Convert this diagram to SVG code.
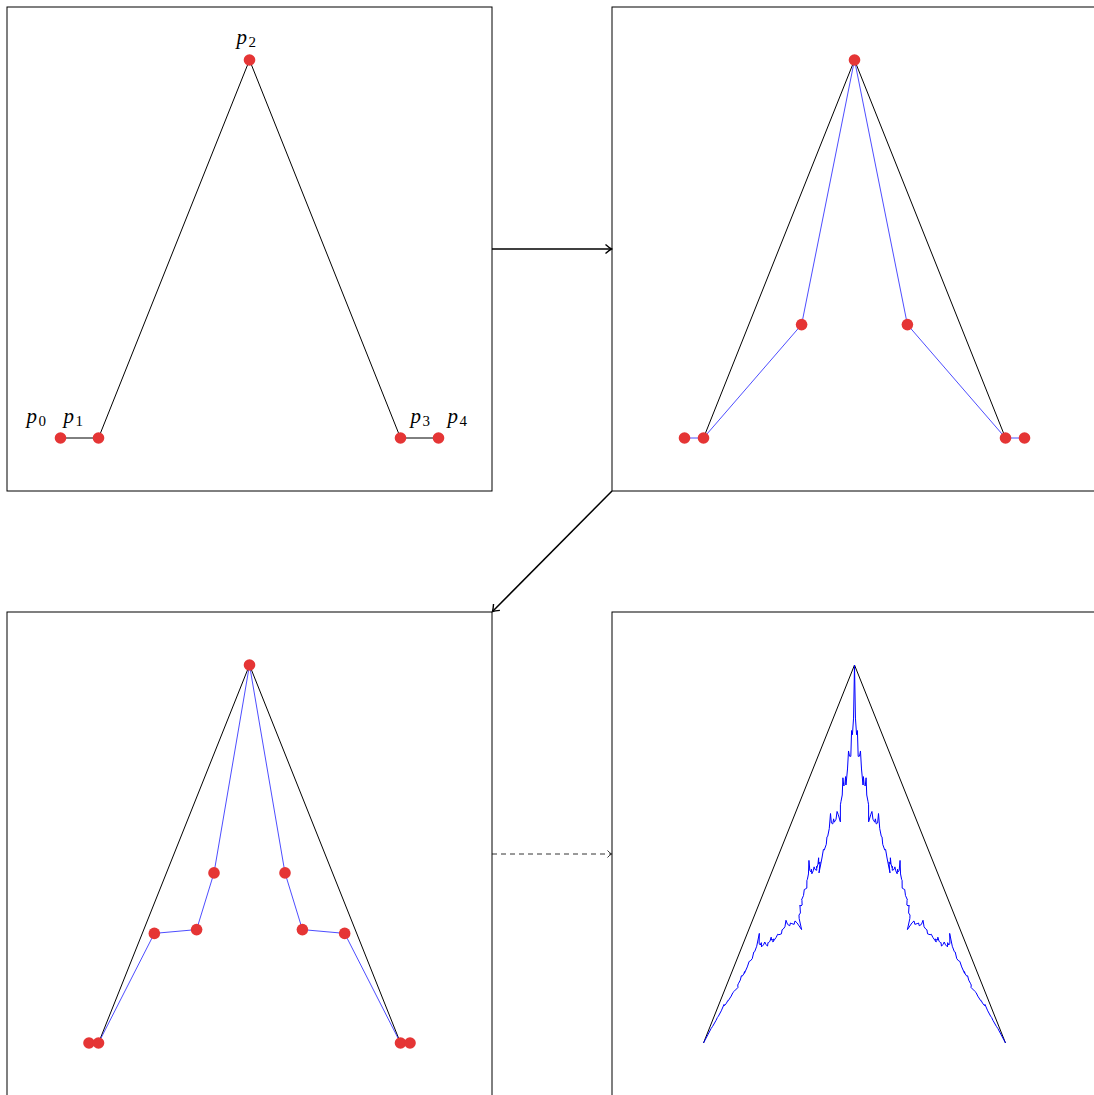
<svg xmlns="http://www.w3.org/2000/svg" xmlns:xlink="http://www.w3.org/1999/xlink" width="1094" height="1095" viewBox="0 0 1094 1095">
<style>
.box{fill:none;stroke:#000;stroke-width:1}
.blk{fill:none;stroke:#000;stroke-width:1;stroke-linejoin:round}
.blu{fill:none;stroke:#2020ff;stroke-width:0.8;stroke-linejoin:round}
.frac{fill:none;stroke:#0000ff;stroke-width:1;stroke-linejoin:round}
.dot{fill:#e53535}
.lbl{font-family:"Liberation Serif","Times New Roman",serif;font-size:21px;fill:#000}
.lbl .i{font-style:italic}
.lbl .s{font-size:15px}
.arr{fill:none;stroke:#000;stroke-width:1.5}
.dash{fill:none;stroke:#000;stroke-width:0.8;stroke-dasharray:5 4}
</style>
<defs>
<marker id="tip" markerWidth="10" markerHeight="12" viewBox="-8 -6 10 12" refX="0" refY="0" orient="auto" markerUnits="userSpaceOnUse">
<path d="M-6,-4.5 Q-2,-1 0,0 Q-2,1 -6,4.5" fill="none" stroke="#000" stroke-width="1.4"/>
</marker>
<marker id="tipS" markerWidth="10" markerHeight="12" viewBox="-8 -6 10 12" refX="0" refY="0" orient="auto" markerUnits="userSpaceOnUse">
<path d="M-4,-3.5 Q-1.5,-0.8 0,0 Q-1.5,0.8 -4,3.5" fill="none" stroke="#000" stroke-width="0.8"/>
</marker>
<path id="halfL" d="M-151,378 L-146.31,369.10 -143.35,363.47 -141.95,361.47 -138.41,355.31 -137.12,352.52 -136.12,351.18 -133.25,345.86 -130.44,339.41 -130.02,340.65 -128.01,338.11 -126.69,335.56 -126.30,335.80 -123.27,331.10 -121.56,327.51 -119.92,325.90 -116.53,322.43 -116.74,320.02 -116.16,318.77 -114.22,315.13 -113.10,310.77 -112.38,311.32 -110.70,308.93 -109.92,306.59 -110.05,308.26 -107.21,301.93 -105.35,296.41 -104.26,296.01 -102.26,293.69 -100.73,287.06 -99.84,286.65 -97.81,281.25 -95.17,268.38 -95.40,278.23 -94.29,280.03 -93.16,277.65 -92.99,281.89 -91.05,279.88 -89.69,276.99 -88.80,279.34 -86.95,281.04 -86.50,277.47 -86.03,277.76 -84.51,276.13 -83.34,272.16 -83.01,275.04 -81.52,274.75 -81.00,273.83 -81.72,277.07 -78.47,272.62 -76.80,269.26 -75.60,269.71 -73.05,268.83 -72.43,264.85 -71.49,264.32 -69.57,261.80 -68.53,255.26 -66.96,259.35 -64.76,260.78 -64.05,257.99 -63.37,258.37 -60.39,259.37 -59.50,255.95 -57.50,257.85 -52.90,264.60 -55.34,253.59 -55.51,250.06 -54.08,247.95 -54.58,240.02 -53.79,241.03 -52.38,240.05 -52.57,235.42 -52.98,235.00 -50.97,230.49 -50.22,224.52 -49.39,224.15 -47.68,223.11 -47.59,215.22 -47.10,214.32 -46.04,208.94 -45.55,195.43 -44.68,205.34 -43.55,206.95 -43.06,204.18 -42.67,208.80 -41.18,205.65 -40.40,201.86 -39.51,204.46 -37.72,205.29 -37.88,201.33 -37.71,202.75 -36.54,199.13 -35.87,192.75 -35.78,199.09 -34.60,197.12 -34.42,196.94 -35.49,207.90 -32.54,193.00 -31.09,184.43 -30.25,184.99 -28.22,179.36 -27.53,171.81 -26.81,171.38 -25.24,163.63 -24.00,148.52 -23.13,157.96 -21.74,158.96 -20.88,153.85 -20.24,157.20 -18.48,154.27 -17.43,146.48 -16.21,149.71 -14.13,156.87 -14.08,139.81 -13.47,136.33 -12.26,130.00 -11.59,112.77 -10.75,120.95 -9.59,119.49 -8.94,111.60 -8.51,120.02 -7.00,103.97 -5.97,85.97 -5.01,91.15 -3.68,91.38 -2.92,65.52 -2.07,69.69 -0.94,53.12 0,0"/>
</defs>
<rect width="1094" height="1095" fill="#fff"/>

<g id="panel1">
<rect class="box" x="7" y="7" width="485" height="484"/>
<polyline class="blk" points="60.5,438 98.5,438 249.5,60 400.5,438 438.5,438"/>
<circle class="dot" cx="60.5" cy="438" r="5.8"/>
<circle class="dot" cx="98.5" cy="438" r="5.8"/>
<circle class="dot" cx="249.5" cy="60" r="5.8"/>
<circle class="dot" cx="400.5" cy="438" r="5.8"/>
<circle class="dot" cx="438.5" cy="438" r="5.8"/>
<text class="lbl" x="26.5" y="423"><tspan class="i">p</tspan><tspan class="s" dx="1.5" dy="3">0</tspan></text>
<text class="lbl" x="63.5" y="423"><tspan class="i">p</tspan><tspan class="s" dx="1.5" dy="3">1</tspan></text>
<text class="lbl" x="236.5" y="44"><tspan class="i">p</tspan><tspan class="s" dx="1.5" dy="3">2</tspan></text>
<text class="lbl" x="410.5" y="423"><tspan class="i">p</tspan><tspan class="s" dx="1.5" dy="3">3</tspan></text>
<text class="lbl" x="447.5" y="423"><tspan class="i">p</tspan><tspan class="s" dx="1.5" dy="3">4</tspan></text>
</g>

<g id="panel2">
<rect class="box" x="612" y="7" width="485" height="484"/>
<g transform="translate(605,0)">
<polyline class="blk" points="98.5,438 249.5,60 400.5,438"/>
<polyline class="blu" points="79.5,438 98.5,438 196.6,324.6 249.5,60 302.4,324.6 400.5,438 419.5,438"/>
<circle class="dot" cx="79.5" cy="438" r="5.8"/>
<circle class="dot" cx="98.5" cy="438" r="5.8"/>
<circle class="dot" cx="196.6" cy="324.6" r="5.8"/>
<circle class="dot" cx="249.5" cy="60" r="5.8"/>
<circle class="dot" cx="302.4" cy="324.6" r="5.8"/>
<circle class="dot" cx="400.5" cy="438" r="5.8"/>
<circle class="dot" cx="419.5" cy="438" r="5.8"/>
</g>
</g>

<g id="panel3">
<rect class="box" x="7" y="612" width="485" height="484"/>
<g transform="translate(0,605)">
<polyline class="blk" points="98.5,438 249.5,60 400.5,438"/>
<polyline class="blu" points="89,438 98.5,438 154.33,328.38 196.6,324.6 214.01,267.9 249.5,60 284.99,267.9 302.4,324.6 344.67,328.38 400.5,438 410,438"/>
<circle class="dot" cx="89" cy="438" r="5.8"/>
<circle class="dot" cx="98.5" cy="438" r="5.8"/>
<circle class="dot" cx="154.33" cy="328.38" r="5.8"/>
<circle class="dot" cx="196.6" cy="324.6" r="5.8"/>
<circle class="dot" cx="214.01" cy="267.9" r="5.8"/>
<circle class="dot" cx="249.5" cy="60" r="5.8"/>
<circle class="dot" cx="284.99" cy="267.9" r="5.8"/>
<circle class="dot" cx="302.4" cy="324.6" r="5.8"/>
<circle class="dot" cx="344.67" cy="328.38" r="5.8"/>
<circle class="dot" cx="400.5" cy="438" r="5.8"/>
<circle class="dot" cx="410" cy="438" r="5.8"/>
</g>
</g>

<g id="panel4">
<rect class="box" x="612" y="612" width="485" height="484"/>
<g transform="translate(605,605)">
<polyline class="blk" points="98.5,438 249.5,60 400.5,438"/>
</g>
<g transform="translate(854.5,665)">
<use xlink:href="#halfL" class="frac"/>
<use xlink:href="#halfL" class="frac" transform="scale(-1,1)"/>
</g>
</g>

<g id="connectors">
<line class="arr" x1="492" y1="249" x2="611.5" y2="249" marker-end="url(#tip)"/>
<line class="arr" x1="612" y1="491" x2="492.5" y2="611.5" marker-end="url(#tip)"/>
<line class="dash" x1="492" y1="854" x2="611.5" y2="854" marker-end="url(#tipS)"/>
</g>
</svg>
